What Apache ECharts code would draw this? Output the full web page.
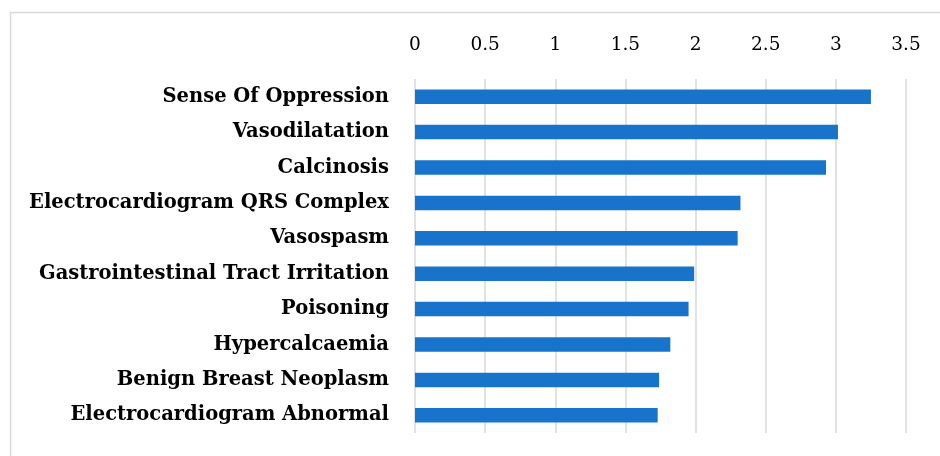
<!DOCTYPE html>
<html>
<head>
<meta charset="utf-8">
<script src="https://cdn.jsdelivr.net/npm/echarts@6/dist/echarts.min.js"></script>
<style>
html,body{margin:0;padding:0;background:#fff;}
#c{width:940px;height:456px;}
</style>
</head>
<body>
<div id="c"></div>
<script>
const categories = [
  "Sense Of Oppression",
  "Vasodilatation",
  "Calcinosis",
  "Electrocardiogram QRS Complex",
  "Vasospasm",
  "Gastrointestinal Tract Irritation",
  "Poisoning",
  "Hypercalcaemia",
  "Benign Breast Neoplasm",
  "Electrocardiogram Abnormal"
];
const values = [3.25, 3.015, 2.93, 2.32, 2.30, 1.99, 1.95, 1.82, 1.74, 1.73];
const tickMin = 0, tickMax = 3.5, tickStep = 0.5;

const chart = echarts.init(document.getElementById('c'));
const serif = '"DejaVu Serif", "Liberation Serif", serif';
chart.setOption({
  animation: false,
  backgroundColor: '#ffffff',
  graphic: [{
    type: 'rect',
    shape: {x: 10.5, y: 12.5, width: 1000, height: 1000},
    style: {fill: 'none', stroke: '#d9d9d9', lineWidth: 1.5},
    silent: true, z: -1
  }],
  grid: {left: 415, right: 34, top: 79, bottom: 23, containLabel: false},
  xAxis: {
    type: 'value',
    position: 'top',
    min: tickMin, max: tickMax, interval: tickStep,
    axisLine: {show: false},
    axisTick: {show: false},
    axisLabel: {
      color: '#000', fontFamily: serif, fontSize: 18.5, margin: 24,
      formatter: v => String(v)
    },
    splitLine: {show: true, lineStyle: {color: '#d9d9d9', width: 1.5}}
  },
  yAxis: {
    type: 'category',
    data: categories,
    inverse: true,
    axisLine: {show: false},
    axisTick: {show: false},
    axisLabel: {
      color: '#000', fontFamily: serif, fontWeight: 'bold', fontSize: 19.5, margin: 26
    }
  },
  series: [{
    type: 'bar',
    data: values,
    barWidth: 14.5,
    itemStyle: {color: '#1874CB'},
    silent: true
  }]
});
</script>
</body>
</html>
